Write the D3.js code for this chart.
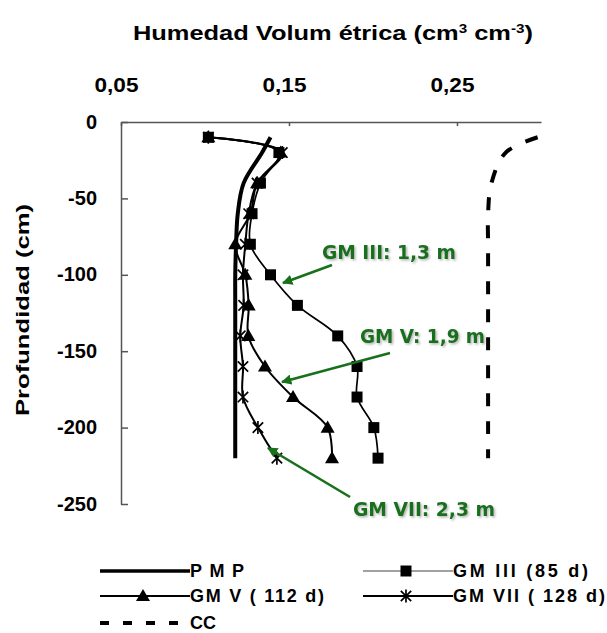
<!DOCTYPE html>
<html>
<head>
<meta charset="utf-8">
<script src="https://cdn.jsdelivr.net/npm/d3@7"></script>
<style>
  body { margin: 0; background: #fff; }
  text { font-family: "Liberation Sans", Arial, sans-serif; }
</style>
</head>
<body>
<div id="chart"></div>
<script>
//depths of the readings (cm), shared by every profile
var depths = [-10, -20, -40, -60, -80, -100, -120, -140, -160, -180, -200, -220];
var pmpValues  = [0.139, 0.134, 0.123, 0.1195, 0.1185, 0.118, 0.118, 0.118, 0.118, 0.118, 0.118, 0.118];
var gm3Values  = [0.102, 0.144, 0.133, 0.128, 0.127, 0.139, 0.155, 0.179, 0.1905, 0.1905, 0.2005, 0.203];
var gm5Values  = [0.102, 0.145, 0.131, 0.127, 0.118, 0.124, 0.126, 0.1258, 0.1357, 0.1524, 0.173, 0.1756];
var gm7Values  = [0.102, 0.146, 0.131, 0.126, 0.124, 0.1226, 0.123, 0.121, 0.1226, 0.1226, 0.1315, 0.1428];
var ccValues   = [0.298, 0.279, 0.2705, 0.2685, 0.2685, 0.2685, 0.2685, 0.2685, 0.2685, 0.2685, 0.2685, 0.2685];

var xTicks = [0.05, 0.15, 0.25];
var yTicks = [0, -50, -100, -150, -200, -250];

var legendLabels = ["PMP", "GM III (85 d)", "GM V ( 112 d)", "GM VII ( 128 d)", "CC"];
var noteLabels = ["GM III: 1,3 m", "GM V: 1,9 m", "GM VII: 2,3 m"];

var width = 607, height = 633;
var green = "#17701a";

var x = d3.scaleLinear().domain([0.05, 0.30]).range([121, 541]);
var y = d3.scaleLinear().domain([0, -250]).range([122, 504]);

var locale = d3.formatLocale({decimal: ",", thousands: ".", grouping: [3], currency: ["", ""], minus: "-"});
var fmt = locale.format(".2f");

var svg = d3.select("#chart").append("svg")
    .attr("xmlns", "http://www.w3.org/2000/svg")
    .attr("width", width)
    .attr("height", height);

var defs = svg.append("defs");
defs.append("marker")
    .attr("id", "arrow")
    .attr("viewBox", "0 0 10 10")
    .attr("refX", 9).attr("refY", 5)
    .attr("markerWidth", 4).attr("markerHeight", 4)
    .attr("orient", "auto")
    .append("path")
    .attr("d", "M0,0 L10,5 L0,10 z")
    .attr("fill", green);
var shadow = defs.append("filter").attr("id", "shadow")
    .attr("x", "-10%").attr("y", "-30%").attr("width", "130%").attr("height", "180%");
shadow.append("feDropShadow")
    .attr("dx", 1.5).attr("dy", 1.5).attr("stdDeviation", 1)
    .attr("flood-color", "#777").attr("flood-opacity", 0.55);

//title
var title = svg.append("text")
    .attr("x", 333).attr("y", 40)
    .attr("text-anchor", "middle")
    .attr("font-size", "20px")
    .attr("font-weight", "bold")
    .attr("textLength", 400)
    .attr("lengthAdjust", "spacingAndGlyphs");
title.append("tspan").text("Humedad Volum étrica (cm");
title.append("tspan").attr("dy", -7).attr("font-size", "12px").text("3");
title.append("tspan").attr("dy", 7).text(" cm");
title.append("tspan").attr("dy", -7).attr("font-size", "12px").text("-3");
title.append("tspan").attr("dy", 7).text(")");

//axes
var xAxis = d3.axisTop(x).tickValues(xTicks).tickFormat(fmt)
    .tickSizeInner(-4).tickSizeOuter(0).tickPadding(30);
var gx = svg.append("g").attr("transform", "translate(0,122)").call(xAxis);

var yAxis = d3.axisLeft(y).tickValues(yTicks).tickFormat(function (d) { return String(d); })
    .tickSizeInner(-7).tickSizeOuter(0).tickPadding(24);
var gy = svg.append("g").attr("transform", "translate(121,0)").call(yAxis);
gy.selectAll("text").attr("dy", "0.3em");

svg.selectAll(".domain, .tick line").attr("stroke", "#555").attr("stroke-width", 1.5);
svg.selectAll(".tick text")
    .attr("font-size", "20px")
    .attr("font-weight", "bold")
    .attr("font-family", "Liberation Sans, Arial, sans-serif")
    .attr("fill", "#000");
//x labels are drawn a little wider than the font gives
gx.selectAll("text")
    .attr("dx", -5)
    .attr("textLength", 44)
    .attr("lengthAdjust", "spacingAndGlyphs");

svg.append("text")
    .attr("transform", "translate(29,310) rotate(-90)")
    .attr("text-anchor", "middle")
    .attr("font-size", "19px")
    .attr("font-weight", "bold")
    .attr("textLength", 212)
    .attr("lengthAdjust", "spacingAndGlyphs")
    .text("Profundidad (cm)");

//marker shapes
function starPath(r) {
    var p = d3.path();
    p.moveTo(0, -r); p.lineTo(0, r);
    p.moveTo(-r * 0.8, -r * 0.8); p.lineTo(r * 0.8, r * 0.8);
    p.moveTo(-r * 0.8, r * 0.8); p.lineTo(r * 0.8, -r * 0.8);
    return p.toString();
}
var squarePath = d3.symbol().type(d3.symbolSquare).size(121)();
var trianglePath = d3.symbol().type(d3.symbolTriangle).size(85)();

function drawMarker(g, kind, cx, cy) {
    if (kind === "square") {
        g.append("path").attr("d", squarePath).attr("transform", "translate(" + cx + "," + cy + ")").attr("fill", "#000");
    } else if (kind === "triangle") {
        g.append("path").attr("d", trianglePath).attr("transform", "translate(" + cx + "," + (cy + 1) + ")").attr("fill", "#000");
    } else if (kind === "star") {
        g.append("path").attr("d", starPath(6.5)).attr("transform", "translate(" + cx + "," + cy + ")")
            .attr("stroke", "#000").attr("stroke-width", 1.7).attr("fill", "none");
    }
}

var series = [
    {values: pmpValues, width: 4,   dash: null, marker: null},
    {values: ccValues,  width: 4,   dash: "13,15", marker: null},
    {values: gm7Values, width: 2,   dash: null, marker: "star"},
    {values: gm5Values, width: 2,   dash: null, marker: "triangle"},
    {values: gm3Values, width: 1.7, dash: null, marker: "square"}
];

var line = d3.line()
    .x(function (d) { return x(d.v); })
    .y(function (d) { return y(d.d); })
    .curve(d3.curveCatmullRom.alpha(0.5));

var plot = svg.append("g");
series.forEach(function (s) {
    var pts = depths.map(function (dd, i) { return {d: dd, v: s.values[i]}; });
    plot.append("path")
        .datum(pts)
        .attr("d", line)
        .attr("fill", "none")
        .attr("stroke", "#000")
        .attr("stroke-width", s.width)
        .attr("stroke-dasharray", s.dash);
    if (s.marker) {
        var mg = plot.append("g");
        pts.forEach(function (p) { drawMarker(mg, s.marker, x(p.v), y(p.d)); });
    }
});

//annotations
var notes = [
    {label: noteLabels[0], tx: 322, ty: 259, len: 134, from: [332, 265], to: [283, 283]},
    {label: noteLabels[1], tx: 360, ty: 343, len: 125, from: [390, 353], to: [282, 382]},
    {label: noteLabels[2], tx: 353, ty: 516, len: 142, from: [350, 497], to: [268, 448]}
];
notes.forEach(function (n) {
    svg.append("line")
        .attr("x1", n.from[0]).attr("y1", n.from[1])
        .attr("x2", n.to[0]).attr("y2", n.to[1])
        .attr("stroke", green).attr("stroke-width", 2.6)
        .attr("marker-end", "url(#arrow)");
    svg.append("text")
        .attr("x", n.tx).attr("y", n.ty)
        .style("font-family", "'DejaVu Sans Condensed', 'DejaVu Sans', sans-serif")
        .attr("font-size", "19px")
        .attr("font-weight", "bold")
        .attr("fill", green)
        .attr("filter", "url(#shadow)")
        .attr("textLength", n.len)
        .attr("lengthAdjust", "spacingAndGlyphs")
        .text(n.label);
});

//legend
var legendItems = [
    {label: legendLabels[0], lx: 100, ly: 571, len: 54,  width: 3.5, dash: null, marker: null},
    {label: legendLabels[1], lx: 363, ly: 571, len: 135, width: 1.2, dash: null, marker: "square", color: "#444"},
    {label: legendLabels[2], lx: 100, ly: 596, len: 134, width: 2,   dash: null, marker: "triangle"},
    {label: legendLabels[3], lx: 363, ly: 596, len: 152, width: 2,   dash: null, marker: "star"},
    {label: legendLabels[4], lx: 100, ly: 623, len: null, width: 4,  dash: "9,14", marker: null}
];
var legend = svg.append("g");
legendItems.forEach(function (it) {
    legend.append("line")
        .attr("x1", it.lx).attr("x2", it.lx + 90)
        .attr("y1", it.ly).attr("y2", it.ly)
        .attr("stroke", it.color || "#000")
        .attr("stroke-width", it.width)
        .attr("stroke-dasharray", it.dash);
    if (it.marker) drawMarker(legend, it.marker, it.lx + 43, it.ly);
    var t = legend.append("text")
        .attr("x", it.lx + 90).attr("y", it.ly + 6)
        .attr("font-size", "18px")
        .attr("font-weight", "bold")
        .text(it.label);
    if (it.len) t.attr("textLength", it.len).attr("lengthAdjust", "spacing");
});
</script>
</body>
</html>
